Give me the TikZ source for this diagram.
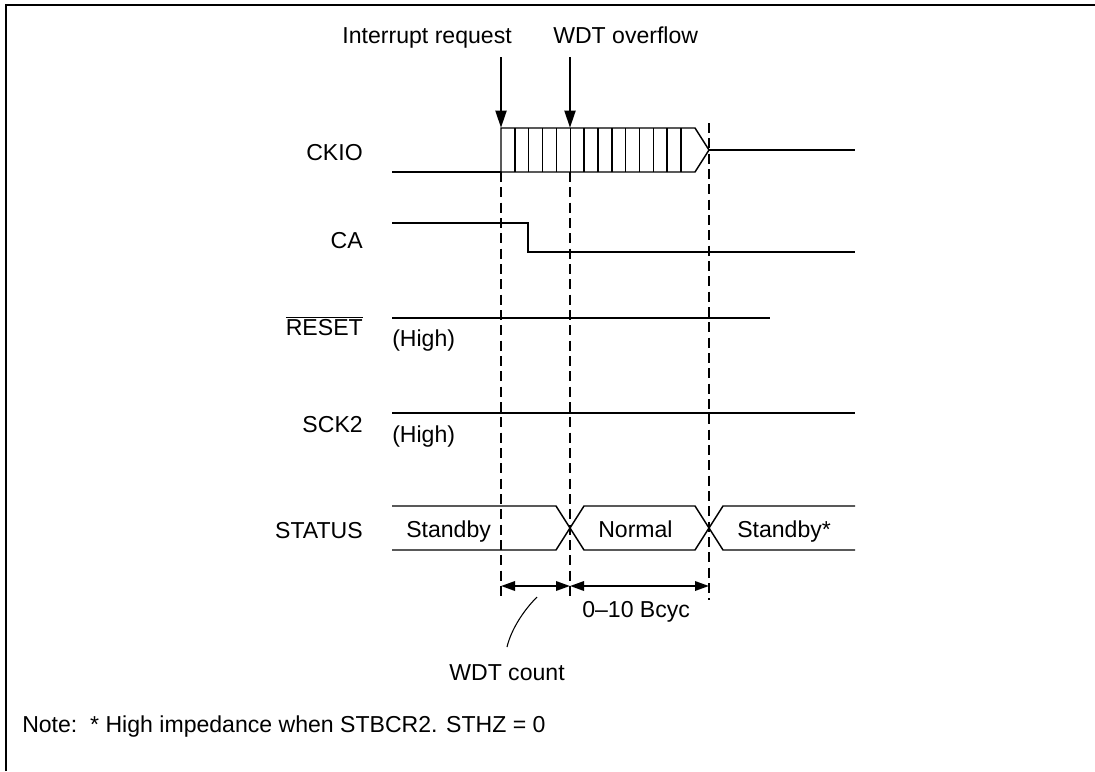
\documentclass[tikz,border=0pt]{standalone}
\usepackage{fontspec}
\setmainfont{Liberation Sans}
\usetikzlibrary{arrows.meta}
\begin{document}
\begin{tikzpicture}[x=0.75pt,y=-0.75pt,
  font=\fontsize{17.3}{20}\selectfont,
  wave/.style={line width=1.1pt},
  guide/.style={line width=1pt, dash pattern=on 7.5pt off 4pt},
  evt/.style={line width=2.2pt,-{Triangle[length=13pt,width=8pt]}},
  dimarrow/.style={line width=1.7pt,{Triangle[length=10.5pt,width=7pt]}-{Triangle[length=10.5pt,width=7pt]}},
  lbl/.style={anchor=base east, inner sep=0pt},
  txt/.style={inner sep=0pt}]
\useasboundingbox (0,0) rectangle (1095,771);
% frame
\draw[line width=2.2pt] (6,771) -- (6,5) -- (1095,5);

% signal labels
\node[lbl] (lckio) at (363,160) {CKIO};
\node[lbl] (lca) at (363,248) {CA};
\node[lbl] (lreset) at (363,335) {$\overline{\mbox{RESET}}$};
\node[lbl] (lsck) at (363,432) {SCK2};
\node[lbl] (lstatus) at (363,538) {STATUS};
\node[txt,anchor=base west] (h1) at (392,346) {(High)};
\node[txt,anchor=base west] (h2) at (392,442) {(High)};

% coordinates
\coordinate (t1) at (501,128);
\coordinate (t2) at (570,128);
\coordinate (t3) at (709,150);

% dashed guides
\draw[guide] (501,172) -- (501,600);
\draw[guide] (570,172) -- (570,600);
\draw[guide] (709,123) -- (709,600);

% CKIO
\draw[wave] (392,172) -- (501,172);
\draw[wave] (501,172) -- (t1) -- (695,128) -- (t3) -- (695,172) -- cycle;
\foreach \k in {1,...,13} \draw[wave] ({501+13.85*\k},128) -- ({501+13.85*\k},172);
\draw[wave] (t3) -- (855,150);

% CA
\draw[wave] (392,223) -- (528,223) -- (528,252) -- (855,252);

% RESET
\draw[wave] (392,318) -- (770,318);
% SCK2
\draw[wave] (392,413) -- (855,413);

% STATUS
\draw[wave] (392,506) -- (556,506) -- (584,550) -- (695,550) -- (723,506) -- (855,506);
\draw[wave] (392,550) -- (556,550) -- (584,506) -- (695,506) -- (723,550) -- (855,550);
\node[txt,anchor=base west] (s1) at (406,537) {Standby};
\node[txt,anchor=base west] (s2) at (598,537) {Normal};
\node[txt,anchor=base west] (s3) at (737,537) {Standby*};

% events
\node[txt,anchor=base east] (irq) at (512,43) {Interrupt request};
\node[txt,anchor=base west] (wdt) at (553,43) {WDT overflow};
\coordinate (irqs) at (501,57);
\coordinate (wdts) at (570,57);
\draw[evt] (irqs) -- (t1);
\draw[evt] (wdts) -- (t2);

% dimensions
\coordinate (d1) at (501,586);
\coordinate (d2) at (570,586);
\coordinate (d3) at (709,586);
\draw[dimarrow] (d1) -- (d2);
\draw[dimarrow] (d2) -- (d3);
\node[txt,anchor=base west] (bcyc) at (582,617) {0--10 Bcyc};
\node[txt,anchor=base] (wdtc) at (507,680) {WDT count};
\coordinate (cs) at (537,597);
\coordinate (ce) at (507,647);
\draw[line width=0.8pt] (cs) .. controls (523,611) and (511,630) .. (ce);

% note
\node[txt,anchor=base west] (note) at (22,732) {Note:\ \ * High impedance when STBCR2. STHZ = 0};
\end{tikzpicture}
\end{document}
